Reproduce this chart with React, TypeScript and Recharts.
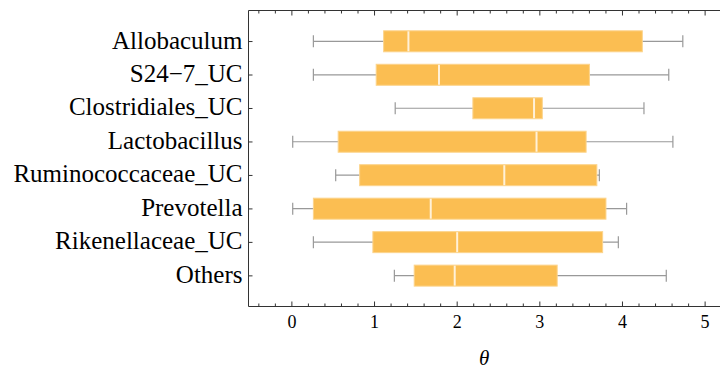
import React from "react";
import { ComposedChart, Bar, XAxis, YAxis } from "recharts";

const categories = [
  "Allobaculum",
  "S24\u22127_UC",
  "Clostridiales_UC",
  "Lactobacillus",
  "Ruminococcaceae_UC",
  "Prevotella",
  "Rikenellaceae_UC",
  "Others",
];
const whiskerLow = [0.26, 0.26, 1.25, 0.01, 0.53, 0.01, 0.26, 1.24];
const q1 = [1.11, 1.02, 2.19, 0.56, 0.82, 0.26, 0.98, 1.48];
const median = [1.41, 1.78, 2.93, 2.96, 2.57, 1.68, 2.0, 1.97];
const q3 = [4.24, 3.6, 3.03, 3.56, 3.69, 3.8, 3.76, 3.21];
const whiskerHigh = [4.73, 4.56, 4.26, 4.61, 3.72, 4.05, 3.95, 4.53];

const xTicks = Array.from({ length: 28 }, (_, i) => Math.round((-0.4 + i * 0.2) * 10) / 10);
const xDomain = [-0.525, 5.18];

const data = categories.map((name, i) => ({
  name,
  low: whiskerLow[i],
  q1: q1[i],
  median: median[i],
  q3: q3[i],
  high: whiskerHigh[i],
  range: [whiskerLow[i], whiskerHigh[i]],
}));

const FONT = "Liberation Serif, Times New Roman, serif";
const BOX = "#FBBE52";
const WHISKER = "#999999";
const AXIS = "#333333";

const isMajor = (v: number) => Math.abs(v - Math.round(v)) < 1e-6;

// one shape draws whiskers, box and median; ends come from the bar's own scale
const BoxShape = (props: any) => {
  const { x, y, width, height, payload } = props;
  const lo = payload.low;
  const hi = payload.high;
  const px = (v: number) => x + ((v - lo) / (hi - lo)) * width;
  const cy = y + height / 2;
  const cap = 6;
  return (
    <g>
      <line x1={px(lo)} x2={px(hi)} y1={cy} y2={cy} stroke={WHISKER} strokeWidth={1.2} />
      <line x1={px(lo)} x2={px(lo)} y1={cy - cap} y2={cy + cap} stroke={WHISKER} strokeWidth={1.2} />
      <line x1={px(hi)} x2={px(hi)} y1={cy - cap} y2={cy + cap} stroke={WHISKER} strokeWidth={1.2} />
      <rect
        x={px(payload.q1)}
        y={y}
        width={px(payload.q3) - px(payload.q1)}
        height={height}
        fill={BOX}
        stroke="#FCD48C"
        strokeWidth={1}
      />
      <line
        x1={px(payload.median)}
        x2={px(payload.median)}
        y1={y + 0.5}
        y2={y + height - 0.5}
        stroke="#FFF1D8"
        strokeWidth={2}
      />
    </g>
  );
};

const BottomTick = (props: any) => {
  const { x, y, payload } = props;
  const major = isMajor(payload.value);
  return (
    <g>
      <line x1={x} x2={x} y1={y} y2={y - (major ? 5 : 3)} stroke={AXIS} strokeWidth={1} />
      {major && (
        <text x={x} y={y + 21} textAnchor="middle" style={{ fontFamily: FONT, fontSize: 18 }} fill="#000">
          {Math.round(payload.value)}
        </text>
      )}
    </g>
  );
};

const TopTick = (props: any) => {
  const { x, y, payload } = props;
  const major = isMajor(payload.value);
  return <line x1={x} x2={x} y1={y} y2={y + (major ? 5 : 3)} stroke={AXIS} strokeWidth={1} />;
};

const LeftTick = (props: any) => {
  const { x, y, payload } = props;
  return (
    <g>
      <line x1={x} x2={x + 4} y1={y} y2={y} stroke={AXIS} strokeWidth={1} />
      <text x={x - 6} y={y + 7} textAnchor="end" style={{ fontFamily: FONT, fontSize: 25 }} fill="#000">
        {payload.value}
      </text>
    </g>
  );
};

export default function App() {
  return (
    <div style={{ position: "absolute", left: 0, top: 0, width: 720, height: 374, background: "#fff" }}>
      <ComposedChart
        width={720}
        height={374}
        data={data}
        layout="vertical"
        margin={{ top: 0.5, right: 0, bottom: 0.5, left: 0.5 }}
      >
        <XAxis
          xAxisId="top"
          orientation="top"
          type="number"
          domain={xDomain}
          allowDataOverflow
          ticks={xTicks}
          interval={0}
          height={10}
          tickSize={0}
          tickMargin={0}
          tickLine={false}
          tick={<TopTick />}
          axisLine={{ stroke: AXIS }}
        />
        <XAxis
          xAxisId="main"
          orientation="bottom"
          type="number"
          domain={xDomain}
          allowDataOverflow
          ticks={xTicks}
          interval={0}
          height={67}
          tickSize={0}
          tickMargin={0}
          tickLine={false}
          tick={<BottomTick />}
          axisLine={{ stroke: AXIS }}
          label={{
            value: "\u03B8",
            position: "insideBottom",
            offset: 9,
            style: { fontStyle: "italic", fontSize: 21, fontFamily: FONT, fill: "#000" },
          }}
        />
        <YAxis
          type="category"
          dataKey="name"
          width={248}
          padding={{ top: 14.3, bottom: 13.9 }}
          interval={0}
          tickSize={0}
          tickMargin={0}
          tickLine={false}
          tick={<LeftTick />}
          axisLine={{ stroke: AXIS }}
        />
        <Bar
          xAxisId="main"
          dataKey="range"
          barSize={21}
          shape={<BoxShape />}
          isAnimationActive={false}
        />
      </ComposedChart>
    </div>
  );
}
